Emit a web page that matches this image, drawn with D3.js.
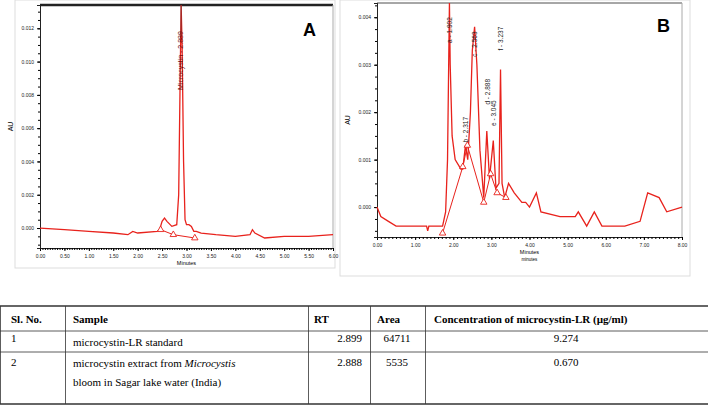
<!DOCTYPE html><html><head><meta charset="utf-8">
<script src="https://cdn.jsdelivr.net/npm/d3@7"></script>
<style>body{margin:0;background:#fff}</style></head><body><svg id="s" width="708" height="407"></svg>
<script>
const traceAx=[0,0.5,1.0,1.5,1.8,1.9,2.0,2.4,2.45,2.5,2.55,2.6,2.7,2.8,2.84,2.87,2.89,2.91,2.94,2.97,3.0,3.05,3.1,3.15,3.2,3.3,3.6,4.0,4.3,4.35,4.4,4.6,5.0,5.5,6.0];
const traceAy=[0,-0.0001,-0.0002,-0.0003,-0.0004,-0.0002,-0.0003,-0.0002,-0.0001,0.0004,0.0006,0.0004,0.0001,0.0002,0.002,0.009,0.0134,0.011,0.004,0.0005,0.0002,0.0002,0.0001,-0.0002,-0.0002,-0.0003,-0.0004,-0.0005,-0.0004,-0.0001,-0.0003,-0.0006,-0.0005,-0.0005,-0.0004];
const baseAx=[2.47,2.73,3.17];
const baseAy=[-0.0001,-0.0004,-0.0006];
const traceBx=[0,0.1,0.3,0.5,1.0,1.3,1.33,1.36,1.5,1.72,1.8,1.85,1.88,1.90,1.92,1.97,2.05,2.2,2.25,2.32,2.38,2.45,2.5,2.56,2.62,2.7,2.8,2.88,2.95,3.05,3.12,3.2,3.24,3.28,3.35,3.45,3.6,3.8,3.9,4.0,4.18,4.3,4.8,5.2,5.28,5.5,5.7,5.9,6.5,6.9,7.1,7.4,7.6,8.0];
const traceBy=[0,-0.0002,-0.0003,-0.0004,-0.0004,-0.0004,-0.0005,-0.0004,-0.0004,-0.0004,-0.0001,0.001,0.003,0.0043,0.003,0.0015,0.001,0.0008,0.0008,0.0013,0.001,0.002,0.0033,0.0038,0.003,0.0012,0.0002,0.0016,0.0006,0.0014,0.0004,0.0005,0.0029,0.0005,0.0002,0.0005,0.0003,0.0001,0.0001,0.0,0.0003,-0.0001,-0.0002,-0.0002,-0.0001,-0.0004,-0.0001,-0.0004,-0.0004,-0.0003,0.0003,0.0002,-0.0001,0.0];
const baseBx=[1.72,2.25,2.37,2.8,2.98,3.15,3.38];
const baseBy=[-0.00055,0.00085,0.0013,0.0001,0.0007,0.0003,0.0002];
const peakBx=[1.902,2.317,2.563,2.888,3.045,3.237];
const peakBtop=[0.0040,0.0019,0.0037,0.0027,0.00225,0.0038];
const peakBlabels=["a - 1.902","b - 2.317","c - 2.563","d - 2.888","e - 3.045","f - 3.237"];
const ticksAx=d3.range(0,6.01,0.5), ticksAy=d3.range(0,0.0121,0.002);
const ticksBx=d3.range(0,8.01,1), ticksBy=d3.range(0,0.00401,0.001);
const tableHeader=["Sl. No.","Sample","RT","Area","Concentration of microcystin-LR (µg/ml)"];
const tableRows=[["1",["microcystin-LR standard"],"2.899","64711","9.274"],["2",["microcystin extract from Microcystis","bloom in Sagar lake water (India)"],"2.888","5535","0.670"]];

const svg=d3.select("#s");
const red="#e8221c";
function panel(o){
  const g=svg.append("g");
  g.append("rect").attr("x",o.frame[0]).attr("y",o.frame[1]).attr("width",o.frame[2]).attr("height",o.frame[3]).attr("fill","none").attr("stroke","#ddd");
  const x=d3.scaleLinear().domain(o.xd).range([o.l,o.r]);
  const y=d3.scaleLinear().domain(o.yd).range([o.b,o.t]);
  g.append("line").attr("x1",o.l).attr("x2",o.r).attr("y1",o.t).attr("y2",o.t).attr("stroke","#222").attr("stroke-width",o.topW);
  g.append("line").attr("x1",o.r).attr("x2",o.r).attr("y1",o.t).attr("y2",o.b).attr("stroke","#aaa");
  const ax=g.append("g").attr("transform",`translate(0,${o.b})`).call(d3.axisBottom(x).tickValues(o.tx).tickFormat(d3.format(".2f")).tickSize(3));
  const minorx=g.append("g").attr("transform",`translate(0,${o.b})`).call(d3.axisBottom(x).tickValues(d3.range(o.xd[0],o.xd[1]+1e-9,o.xm)).tickFormat("").tickSize(2));
  const ay=g.append("g").attr("transform",`translate(${o.l},0)`).call(d3.axisLeft(y).tickValues(o.ty).tickFormat(d3.format(".3f")).tickSize(3));
  const minory=g.append("g").attr("transform",`translate(${o.l},0)`).call(d3.axisLeft(y).tickValues(d3.range(o.yd[0]+(o.ym-((o.yd[0]%o.ym)+o.ym)%o.ym),o.yd[1],o.ym)).tickFormat("").tickSize(2));
  [ax,ay,minorx,minory].forEach(a=>{a.selectAll("text").attr("font-size",5).attr("font-family","Arial").attr("fill","#222");a.select(".domain").attr("stroke","#222");});
  g.append("text").attr("x",(o.l+o.r)/2).attr("y",o.b+17).attr("text-anchor","middle").attr("font-size",5.5).attr("font-family","Arial").text("Minutes");
  if(o.extra) g.append("text").attr("x",(o.l+o.r)/2).attr("y",o.b+24).attr("text-anchor","middle").attr("font-size",4.5).attr("font-family","Arial").text("minutes");
  g.append("text").attr("transform",`translate(${o.l-27},${(o.t+o.b)/2}) rotate(-90)`).attr("text-anchor","middle").attr("font-size",7).attr("font-family","Arial").text("AU");
  g.append("text").attr("x",o.lx).attr("y",o.ly).attr("font-size",18).attr("font-weight","bold").attr("font-family","Arial").text(o.letter);
  const line=d3.line().x(d=>x(d[0])).y(d=>y(d[1]));
  g.append("path").attr("d",line(d3.zip(o.bx,o.by))).attr("fill","none").attr("stroke",red).attr("stroke-width",1);
  g.append("path").attr("d",line(d3.zip(o.px,o.py))).attr("fill","none").attr("stroke",red).attr("stroke-width",1.3);
  const tri=d3.symbol().type(d3.symbolTriangle).size(18);
  g.selectAll(".tr").data(d3.zip(o.bx,o.by)).join("path").attr("d",tri).attr("transform",d=>`translate(${x(d[0])},${y(d[1])})`).attr("fill","#fff").attr("stroke",red).attr("stroke-width",0.9);
  return {g,x,y};
}
const A=panel({frame:[15,0,320,268],l:40,r:333,t:5,b:248,xd:[0,6],yd:[-0.0012,0.0134],tx:ticksAx,ty:ticksAy,xm:0.05,ym:0.0005,px:traceAx,py:traceAy,bx:baseAx,by:baseAy,letter:"A",lx:303,ly:36,topW:2.5});
A.g.append("line").attr("x1",A.x(2.889)).attr("x2",A.x(2.889)).attr("y1",A.y(0.0134)).attr("y2",A.y(0.0115)).attr("stroke","#333").attr("stroke-width",0.6);
A.g.append("text").attr("transform",`translate(${A.x(2.889)+2},${A.y(0.0083)}) rotate(-90)`).attr("font-size",7).attr("font-family","Arial").attr("fill","#6b0d0d").text("Microcystin - 2.889");
const B=panel({frame:[340,0,350,276],l:377,r:682,t:3,b:237,xd:[0,8],yd:[-0.00063,0.0043],tx:ticksBx,ty:ticksBy,xm:0.1,ym:0.00025,px:traceBx,py:traceBy,bx:baseBx,by:baseBy,letter:"B",lx:657,ly:32,topW:0.8,extra:true});
B.g.selectAll(".pl").data(d3.zip(peakBx,peakBtop,peakBlabels)).join("text").attr("transform",d=>`translate(${B.x(d[0])+2.5},${B.y(d[1])}) rotate(-90)`).attr("text-anchor","end").attr("font-size",6.5).attr("font-family","Arial").attr("fill","#222").text(d=>d[2]);

// table
const cols=[0,65,308,370,425,708], rowsY=[306,331,352,404];
const tg=svg.append("g").attr("font-family","Liberation Serif").attr("font-size",11);
rowsY.forEach((yy,i)=>tg.append("line").attr("x1",0).attr("x2",708).attr("y1",yy).attr("y2",yy).attr("stroke","#333").attr("stroke-width",i==0||i==3?1.5:0.8));
cols.forEach(c=>tg.append("line").attr("x1",c+0.5).attr("x2",c+0.5).attr("y1",306).attr("y2",404).attr("stroke","#333").attr("stroke-width",0.8));
const hx=[11,73,314,377,434];
tableHeader.forEach((h,i)=>tg.append("text").attr("x",hx[i]).attr("y",323).attr("font-weight","bold").text(h));
tableRows.forEach((r,ri)=>{
  const y0=ri==0?346:367;
  tg.append("text").attr("x",11).attr("y",ri==0?342:366).text(r[0]);
  r[1].forEach((ln,li)=>{
    const t=tg.append("text").attr("x",73).attr("y",y0+li*19);
    if(ln.includes("Microcystis")){t.append("tspan").text("microcystin  extract  from ");t.append("tspan").attr("font-style","italic").text("Microcystis");}
    else t.text(ln);
  });
  tg.append("text").attr("x",362).attr("y",ri==0?342:366).attr("text-anchor","end").text(r[2]);
  tg.append("text").attr("x",397).attr("y",ri==0?342:366).attr("text-anchor","middle").text(r[3]);
  tg.append("text").attr("x",566).attr("y",ri==0?342:366).attr("text-anchor","middle").text(r[4]);
});
</script></body></html>
